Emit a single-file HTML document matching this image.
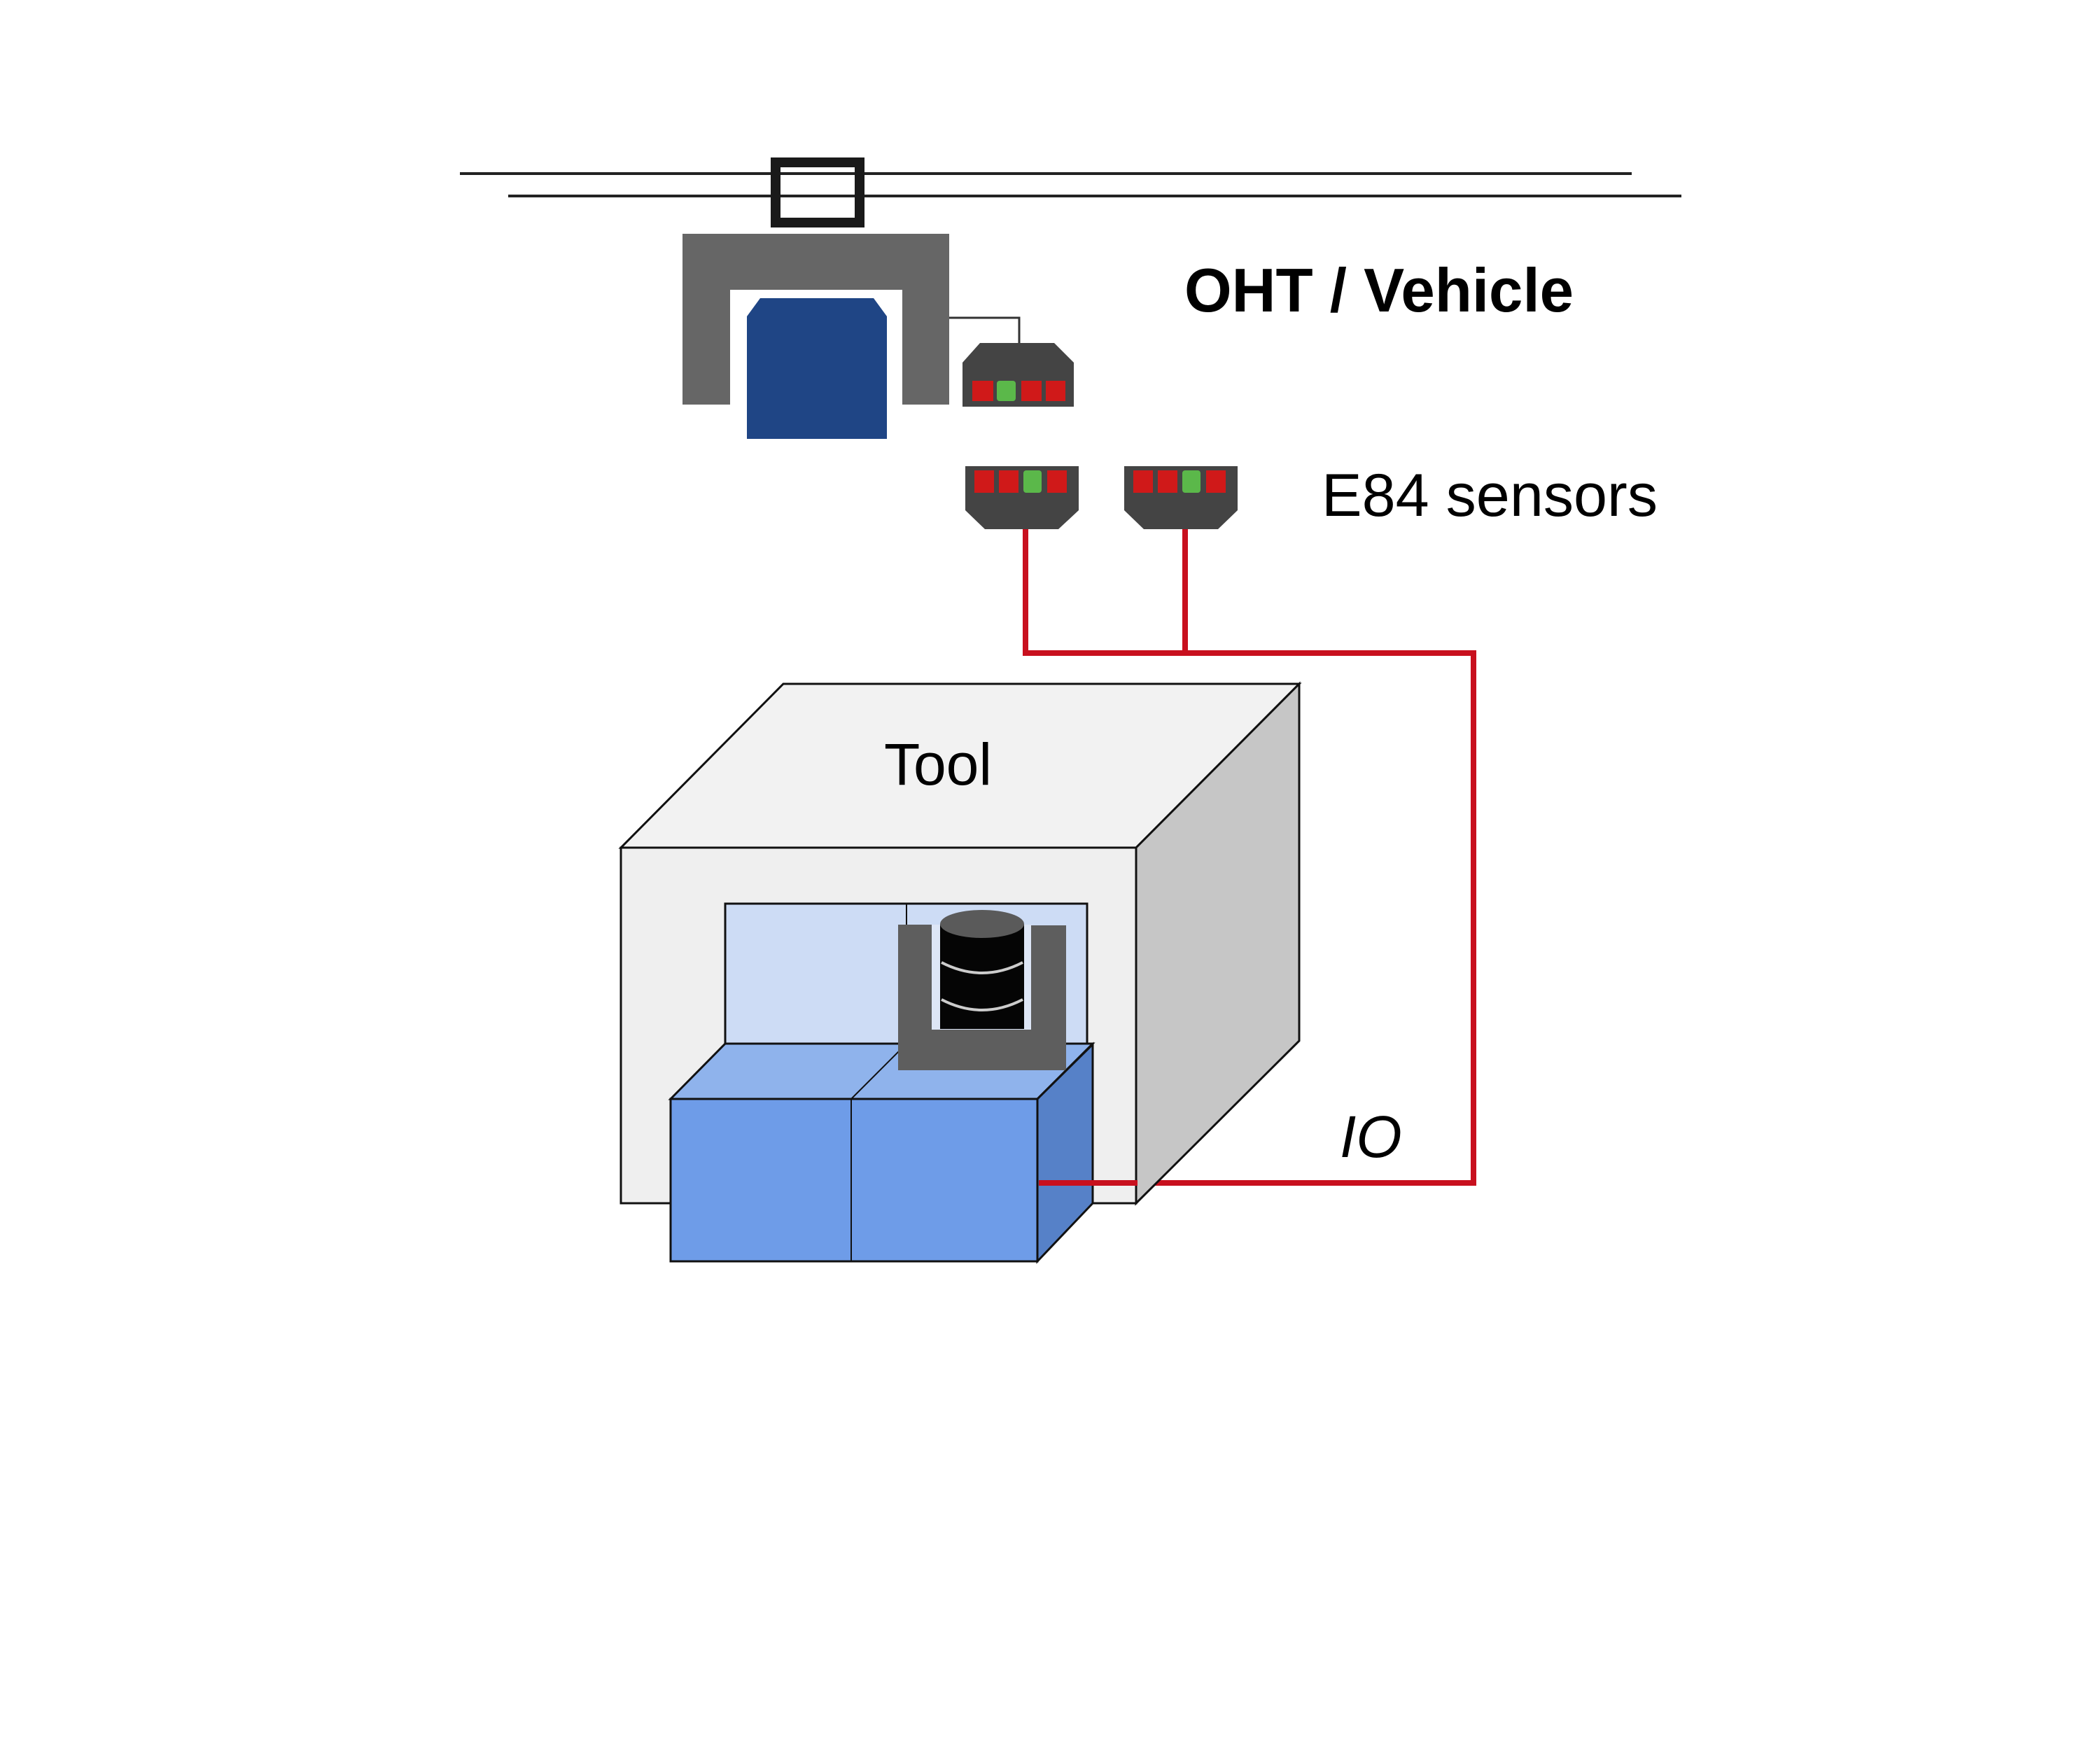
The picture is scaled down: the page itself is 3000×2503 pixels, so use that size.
<!DOCTYPE html>
<html><head><meta charset="utf-8"><style>html,body{margin:0;padding:0;background:#fff}svg{display:block}</style></head>
<body>
<svg width="3000" height="2503" viewBox="0 0 3000 2503" xmlns="http://www.w3.org/2000/svg">
<rect width="3000" height="2503" fill="#fff"/>
<line x1="657" y1="248" x2="2331" y2="248" stroke="#222" stroke-width="4"/>
<line x1="726" y1="280" x2="2402" y2="280" stroke="#222" stroke-width="4"/>
<rect x="1108" y="232" width="120" height="86" fill="none" stroke="#1a1a1a" stroke-width="14"/>
<path d="M975 334 H1356 V578 H1289 V414 H1043 V578 H975 Z" fill="#666"/>
<path d="M1086 426 H1248 L1267 452 V627 H1067 V452 Z" fill="#1f4585"/>
<polyline points="1356,454 1456,454 1456,490" fill="none" stroke="#333" stroke-width="3"/>
<path d="M1400 490 H1506 L1534 518 V581 H1375 V518 Z" fill="#444"/>
<rect x="1389" y="544" width="30" height="29" fill="#d01919"/>
<rect x="1424" y="544" width="27" height="29" rx="4" fill="#5bb84a"/>
<rect x="1459" y="544" width="29" height="29" fill="#d01919"/>
<rect x="1494" y="544" width="28" height="29" fill="#d01919"/>
<polyline points="1465,756 1465,933 2105,933 2105,1690 1490,1690" fill="none" stroke="#c8101e" stroke-width="8"/>
<line x1="1693" y1="756" x2="1693" y2="933" stroke="#c8101e" stroke-width="8"/>
<path d="M1379 666 H1541 V729 L1512 756 H1407 L1379 729 Z" fill="#444"/>
<rect x="1392" y="672" width="28" height="32" fill="#d01919"/>
<rect x="1427" y="672" width="28" height="32" fill="#d01919"/>
<rect x="1462" y="672" width="26" height="32" rx="4" fill="#5bb84a"/>
<rect x="1496" y="672" width="28" height="32" fill="#d01919"/>
<path d="M1606 666 H1768 V729 L1740 756 H1634 L1606 729 Z" fill="#444"/>
<rect x="1619" y="672" width="28" height="32" fill="#d01919"/>
<rect x="1654" y="672" width="28" height="32" fill="#d01919"/>
<rect x="1689" y="672" width="26" height="32" rx="4" fill="#5bb84a"/>
<rect x="1723" y="672" width="28" height="32" fill="#d01919"/>
<text x="1692" y="445" font-family="Liberation Sans, sans-serif" font-weight="bold" font-size="88" textLength="556" lengthAdjust="spacingAndGlyphs" fill="#000">OHT / Vehicle</text>
<text x="1888" y="737" font-family="Liberation Sans, sans-serif" font-size="86" textLength="480" lengthAdjust="spacingAndGlyphs" fill="#000">E84 sensors</text>
<path d="M887 1211 L1119 977 H1856 L1623 1211 Z" fill="#f2f2f2" stroke="#111" stroke-width="3"/>
<path d="M1623 1211 L1856 977 V1487 L1623 1719 Z" fill="#c6c6c6" stroke="#111" stroke-width="3"/>
<rect x="887" y="1211" width="736" height="508" fill="#efefef" stroke="#111" stroke-width="3"/>
<text x="1340" y="1121" text-anchor="middle" font-family="Liberation Sans, sans-serif" font-size="84" fill="#000">Tool</text>
<rect x="1036" y="1291" width="517" height="200" fill="#cddcf5" stroke="#111" stroke-width="3"/>
<line x1="1295" y1="1291" x2="1295" y2="1491" stroke="#111" stroke-width="2"/>
<path d="M958 1570 L1036 1491 H1561 L1482 1570 Z" fill="#8fb3ec" stroke="#111" stroke-width="3"/>
<line x1="1216" y1="1570" x2="1295" y2="1491" stroke="#111" stroke-width="2"/>
<path d="M1283 1321 H1331 V1471 H1473 V1322 H1523 V1529 H1283 Z" fill="#5e5e5e"/>
<rect x="1331" y="1321" width="142" height="150" fill="#dde6f6"/>
<path d="M1343 1320 V1470 H1463 V1320 Z" fill="#050505"/>
<ellipse cx="1403" cy="1320" rx="60" ry="20" fill="#5a5a5a"/>
<path d="M1345 1375 Q1403 1405 1461 1375" fill="none" stroke="#ccc" stroke-width="4"/>
<path d="M1345 1428 Q1403 1458 1461 1428" fill="none" stroke="#ccc" stroke-width="4"/>
<path d="M1482 1570 L1561 1492 V1719 L1482 1802 Z" fill="#5681c8" stroke="#111" stroke-width="3"/>
<rect x="958" y="1570" width="524" height="232" fill="#6e9ce8" stroke="#111" stroke-width="3"/>
<line x1="1216" y1="1570" x2="1216" y2="1802" stroke="#111" stroke-width="2"/>
<line x1="1484" y1="1690" x2="1625" y2="1690" stroke="#c8101e" stroke-width="8"/>
<text x="1914" y="1653" font-family="Liberation Sans, sans-serif" font-style="italic" font-size="84" fill="#000">IO</text>
</svg>
</body></html>
